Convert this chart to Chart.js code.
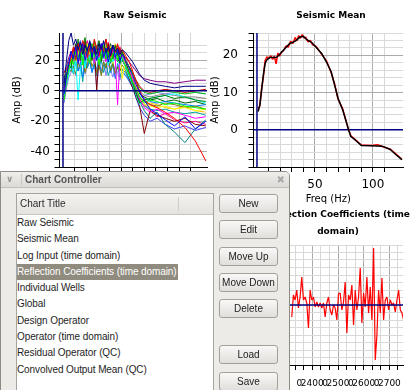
<!DOCTYPE html>
<html>
<head>
<meta charset="utf-8">
<script src="https://cdn.jsdelivr.net/npm/chart.js@4.4.0/dist/chart.umd.min.js"></script>
<style>
  html, body { margin: 0; padding: 0; background: #fff; }
  body { width: 415px; height: 390px; overflow: hidden; position: relative; font-family: 'DejaVu Sans', sans-serif; }
  canvas { position: absolute; }
  #rawChart { left: 7px; top: 0; }
  #meanChart { left: 205px; top: 0; }
  #reflChart { left: 263px; top: 200px; }

  .dlg { position: absolute; left: 0; top: 171px; width: 290px; height: 230px; box-sizing: border-box;
         background: #edebe8; border: 1px solid #8e8b85; border-top-right-radius: 5px;
         font-family: 'Liberation Sans', sans-serif; }
  .bar { position: absolute; left: 0; top: 0; right: 0; height: 15px; background: linear-gradient(#efeeec, #dcdad6);
         border-bottom: 1px solid #c2bfb9; border-top-right-radius: 4px; }
  .chev { position: absolute; left: 5px; top: 0; font: bold 9px 'DejaVu Sans', sans-serif; line-height: 15px; color: #9c9a96; }
  .sep { position: absolute; left: 20px; top: 2px; height: 11px; border-left: 1px solid #c9c6c0; }
  .ttl { position: absolute; left: 24px; top: 0; font-weight: bold; font-size: 10px; line-height: 15px; color: #555; }
  .cls { position: absolute; right: 4px; top: 0; font: 10px 'DejaVu Sans', sans-serif; line-height: 15px; color: #aaa; }
  .list { position: absolute; left: 15px; top: 21px; width: 196px; height: 220px; background: #fff; border: 1px solid #a7a49e; }
  .head { position: relative; height: 20px; padding-left: 3px; background: linear-gradient(#f4f3f1, #e5e3df);
          border-bottom: 1px solid #c8c5bf; font-size: 10px; line-height: 20px; color: #2a2a2a; }
  .head .div { position: absolute; left: 161px; top: 3px; height: 14px; border-left: 1px solid #d0cdc7; }
  .row { width: 161px; height: 16.3px; line-height: 16.3px; font-size: 10px; letter-spacing: -0.1px; color: #1e1e1e; white-space: nowrap; }
  .row.sel { background: #8f8b7e; color: #fff; }
  .btn { position: absolute; left: 218px; width: 59px; height: 19px; box-sizing: border-box; border: 1px solid #a3a09a;
         border-radius: 3px; background: linear-gradient(#f9f8f7, #e1dfdb); font-size: 10px; line-height: 17px;
         text-align: center; color: #222; white-space: nowrap; }
</style>
</head>
<body>
<canvas id="rawChart" width="256" height="210"></canvas>
<canvas id="meanChart" width="252" height="210"></canvas>
<canvas id="reflChart" width="152" height="190"></canvas>

<div class="dlg">
  <div class="bar"><span class="chev">&#8744;</span><span class="sep"></span><span class="ttl">Chart Controller</span><span class="cls">&#10006;</span></div>
  <div class="list">
    <div class="head">Chart Title<span class="div"></span></div>
    <div id="rows"></div>
  </div>
  <div class="btn" style="top:22px">New</div>
  <div class="btn" style="top:48px">Edit</div>
  <div class="btn" style="top:74.5px">Move Up</div>
  <div class="btn" style="top:101px">Move Down</div>
  <div class="btn" style="top:127px">Delete</div>
  <div class="btn" style="top:173px">Load</div>
  <div class="btn" style="top:200px">Save</div>
</div>

<script>
// ---- data ----
const chartTitles = ['Raw Seismic', 'Seismic Mean', 'Log Input (time domain)', 'Reflection Coefficients (time domain)',
  'Individual Wells', 'Global', 'Design Operator', 'Operator (time domain)', 'Residual Operator (QC)', 'Convolved Output Mean (QC)'];
const selectedChart = 3;

// Raw Seismic: amplitude spectra of the individual traces (dB)
const rawFreqs = [1, 3, 5, 7, 9, 11, 13, 15, 17, 19, 21, 23, 25, 27, 29, 31, 33, 35, 37, 39, 41, 43, 45, 47, 49, 51,
  54, 57, 60, 63, 66, 70, 75, 81, 88, 96, 105, 114, 123];
const rawTraces = [
  [5, 20, 33, 38, 30, 34, 27, 32, 24, 30, 26, 33, 27, 29, 24, 31, 27, 33, 25, 29, 23, 30, 26, 28, 24, 27, 25, 22, 19, 15, 11, 7, 5, 4, 3, 2, 3, 3, 3],
  [-2, 10, 18, 26, 21, 29, 18, 27, 31, 20, 27, 32, 22, 29, 20, 26, 31, 22, 28, 19, 26, 30, 22, 27, 20, 24, 20, 15, 10, 4, -1, -6, -12, -15, -19, -23, -17, -25, -20],
  [12, 14, 17, 22, 28, 20, 31, 25, 33, 26, 22, 30, 25, 34, 28, 23, 30, 26, 34, 27, 22, 29, 25, 31, 24, 27, 23, 19, 13, 6, 0, -6, -9, -11, -14, -18, -24, -33, -46],
  [-6, 6, 14, 21, 17, 26, 20, 30, 17, 28, 23, 18, 31, 22, 27, 17, 25, 30, 21, 26, 19, 24, 28, 20, 25, 21, 16, 11, 6, 1, -4, -8, -6, -7, -9, -8, -10, -11, -12],
  [4, 9, 17, 15, 27, 21, 34, 20, 29, 35, 23, 28, 20, 33, 26, 31, 19, 27, 34, 22, 28, 21, 30, 24, 18, 26, 19, 12, 5, -2, -8, -6, -5, -4, -3, -5, -4, -6, -7],
  [0, 6, 15, 24, 20, 28, 23, 19, 30, 26, 21, 29, 25, 18, 27, 22, 28, 24, 19, 27, 23, 26, 21, -9, 20, 24, 18, 13, 8, 1, -5, -11, -14, -12, -15, -14, -16, -18, -17],
  [-3, 4, 11, 18, 12, 20, -6, 14, 24, 15, 27, 21, 29, 18, 24, 20, 26, 21, 28, 17, 23, 19, 25, 20, 17, 22, 15, 9, 4, -3, -9, -6, -5, -4, -3, -2, -4, -6, -8],
  [10, 13, 12, 20, 26, 18, 24, 29, 25, 20, 31, 24, 27, 22, 25, 19, 28, 23, 30, 21, 26, 18, 27, 22, 25, 8, 21, 14, 9, 3, -4, -9, -10, -11, -10, -12, -11, -13, -12],
  [2, 8, 15, 21, 25, 30, 22, 27, 20, 32, 24, 28, 21, 29, 0, 25, 29, 23, 26, 31, 20, 24, 28, 19, 23, 21, 16, 8, 2, -4, -10, -28, -13, -16, -18, -20, -18, -22, -23],
  [6, 12, 19, 17, 24, 20, 27, 23, 28, 24, 26, 21, 25, 20, 23, 19, 22, 27, 21, 25, 18, 23, 20, 24, 18, 21, 15, 10, 5, -1, -7, -13, -18, -14, -22, -27, -34, -25, -19],
  [12, 16, 22, 26, 23, 29, 25, 32, 27, 23, 29, 25, 31, 27, 24, 28, 22, 30, 26, 23, 28, 25, 29, 22, 27, 24, 22, 19, 16, 13, 10, 8, 7, 6, 6, 5, 6, 7, 7],
  [4, 8, 13, 13, 16, 11, 19, 15, 21, 12, 18, 23, 16, 20, 12, 17, 10, 19, 15, 22, 13, 18, 11, 16, 13, 17, 13, 9, 4, 0, -4, -7, -9, -10, -8, -9, -11, -10, -12],
  [7, 11, 17, 23, 19, 27, 23, 20, 26, 22, 28, 24, 21, 27, 23, 26, 20, 25, 29, 22, 26, 20, 24, 27, 21, 23, 19, 14, 9, 4, 0, -3, -4, -3, -2, -3, -4, -4, -5],
  [0, 5, 14, 20, 26, 21, 28, 33, 25, 30, 26, 22, 30, 24, 29, 21, 26, 32, 24, 20, 27, 23, 29, 21, 26, 20, 16, 9, 2, -5, -11, -16, -20, -18, -22, -25, -23, -26, -24],
  [9, 13, 19, 16, 24, 28, 21, 26, 31, 24, 20, 27, 23, 28, 22, 25, 30, 21, 27, 24, 19, 26, 22, 28, 21, 25, 20, 16, 11, 6, 2, -1, -2, -1, 0, -1, -2, -1, -2],
  [1, 7, 12, 14, 17, 20, 13, 19, 9, 21, 16, 20, 12, 18, 14, 22, 11, 17, 15, 21, 12, 17, 8, 18, 14, 12, 10, 7, 3, 0, -3, -5, -7, -8, -7, -8, -9, -10, -9],
  [5, 11, 16, 22, 29, 24, 27, 22, 28, 33, 26, 23, 28, 21, 27, 24, 31, 25, 20, 28, 23, 26, 21, 25, 28, 22, 19, 16, 12, 7, 3, 0, -1, 0, 1, 0, -1, 0, 1],
  [2, 9, 14, 16, 11, 19, 13, 18, 6, 20, 15, 19, 13, 17, 10, 16, 20, 12, 18, 10, 15, 19, 11, 16, 9, 14, 12, 7, 2, -3, -7, -10, -12, -13, -12, -14, -15, -14, -16],
  [-4, 3, 13, 21, 26, 19, 30, 24, 20, 29, 33, 22, 27, 25, 30, 21, 24, 28, 22, 32, 25, 21, 27, 23, 29, 19, 22, 13, 7, 2, -6, -9, -13, -17, -15, -19, -21, -20, -22],
  [8, 12, 16, 24, 19, 27, 30, 21, 26, 23, 30, 26, 20, 31, 24, 27, 21, 28, 25, 20, 29, 24, 31, 25, 22, 27, 20, 14, 6, -2, -7, -10, -8, -9, -11, -12, -10, -13, -14],
  [3, 10, 18, 24, 20, 31, 25, 28, 22, 30, 25, 32, 26, 21, 28, 33, 24, 29, 23, 27, 31, 22, 26, 30, 23, 25, 21, 15, 8, 3, -2, -4, -6, -5, -7, -6, -8, -7, -9],
  [-8, 2, 9, 12, 16, 10, 18, 13, 20, 11, 17, 21, 12, 18, 3, 16, 13, 20, 10, 17, 14, 9, 16, 12, 7, 14, 10, 6, 2, -2, -6, -3, -2, -1, -2, -1, 0, -1, -2]
];
const rawColors = ['#000080', '#0000ff', '#ff0000', '#00ff00', '#008000', '#ff00ff', '#00ffff', '#ffff00', '#800000',
  '#008080', '#800080', '#808000', '#808080', '#4040ff', '#00c000', '#0080ff', '#c00000', '#00a0a0',
  '#ff0080', '#ffc000', '#006000', '#8080ff'];
const rawFreqRange = [-3, 124];
const rawAmpRange = [-50, 38];
const rawAmpTicks = [-40, -20, 0, 20];

// Seismic Mean: smoothed (black) and raw (red) mean spectrum
const meanFreqs = [1, 2.5, 4, 5.5, 7, 8.5, 11, 14, 17, 20, 24, 28, 33, 37, 40, 43, 47, 51, 56, 60, 64, 67, 70, 74, 77, 79, 81, 85, 90, 99, 108, 115, 120, 125];
const meanSmooth = [4.9, 6.7, 10.7, 14.7, 17.8, 18.8, 19.4, 19.4, 19.5, 20.4, 21.8, 23.1, 23.8, 24.9, 25.1, 24.2, 23.5, 22.2, 20.4, 18.2, 15.6, 12, 8.4, 5.3, 2.2, 0, -1.8, -2.8, -4.2, -4.3, -4.4, -5.3, -6.7, -8];
const meanRawFreqs = [1, 2.5, 4, 5.5, 7, 8.5, 10, 12, 13.5, 15, 16.5, 18, 19.5, 21, 23, 25, 27, 29, 31, 33, 34.5, 36, 37.5, 39, 40.5, 42, 44, 46, 48, 51, 56, 60, 64, 67, 70, 74, 77, 79, 81, 85, 90, 99, 104, 108, 115, 120, 125];
const meanRaw = [5.5, 6.5, 11, 14.2, 18.5, 19.6, 19.2, 19.9, 18.9, 19.8, 17.7, 20.6, 19.8, 20.8, 21.3, 22.5, 22.2, 23.8, 23.2, 24.8, 23.9, 25.3, 24.6, 25.6, 24.7, 24.9, 23.6, 24, 22.8, 22.4, 20.2, 18.5, 15.4, 12.3, 8.2, 5.6, 2.2, 0.1, -1.6, -2.7, -4.1, -4.2, -4, -4.5, -5.2, -6.5, -7.9];
const meanFreqRange = [-3, 126];
const meanAmpRange = [-10, 26];
const meanAmpTicks = [0, 10, 20];
const freqTicks = [0, 50, 100];

// Reflection coefficients (time domain)
const reflTimes = [2320, 2326.5, 2333, 2339.5, 2346, 2352.5, 2359, 2365.5, 2372, 2378.5, 2385, 2391.5, 2398, 2404.5, 2411, 2417.5,
  2424, 2430.5, 2437, 2443.5, 2450, 2456.5, 2463, 2469.5, 2476, 2482.5, 2489, 2495.5, 2502, 2508.5, 2515, 2521.5, 2528, 2534.5,
  2541, 2547.5, 2554, 2560.5, 2567, 2573.5, 2580, 2586.5, 2593, 2599.5, 2606, 2612.5, 2619, 2625.5, 2632, 2638.5, 2645, 2651.5,
  2658, 2664.5, 2671, 2677.5, 2684, 2690.5, 2697, 2703.5, 2710, 2716.5, 2723, 2729.5, 2736, 2742.5, 2749, 2755.5];
const reflCoefs = [-0.12, 0.10, 0.05, 0.15, -0.03, 0.08, 0.28, 0.05, 0.08, 0.02, -0.23, 0.15, 0.05, 0.08, -0.02, 0.03,
  -0.02, 0.02, -0.03, 0.02, -0.12, 0.02, 0.08, -0.05, -0.10, 0, -0.03, -0.15, 0.11, 0.12, -0.05, 0.03, 0.23, -0.28,
  0.10, 0.05, 0.20, -0.20, 0.15, -0.05, 0.08, 0.37, -0.18, 0.12, -0.02, 0.28, -0.08, 0.18, -0.15, 0.57, -0.55, -0.30,
  0.15, -0.08, 0.27, -0.15, 0.05, 0.08, -0.05, 0.05, 0, 0.02, -0.07, 0.05, 0.15, -0.05, -0.08, -0.15];
const reflTimeRange = [2247, 2753];
const reflAmpRange = [-0.6, 0.6];
const reflTickValues = [2350, 2400, 2450, 2500, 2550, 2600, 2650, 2700, 2750];
const reflTickLabels = ['0', '2400', '0', '2500', '0', '2600', '0', '2700', '0'];

// ---- helpers ----
const GRID = '#d9d9d9';
const GRID_DARK = '#ababab';
const NAVY = '#000080';
const near = (v, m) => Math.abs(v / m - Math.round(v / m)) < 1e-6;
const labelFrom = (values, labels) => v => {
  const i = values.findIndex(t => Math.abs(t - v) < 1e-6);
  return i < 0 ? '' : (labels ? labels[i] : String(values[i]));
};
const fixWidth = w => s => { s.width = w; s.paddingTop = 0; s.paddingBottom = 0; };
const fixHeight = h => s => { s.height = h; s.paddingLeft = 0; s.paddingRight = 0; };
const pts = (xs, ys) => ys.map((y, i) => ({ x: xs[i], y: y }));
const zeroLines = (xr, yr) => [
  { data: [{ x: xr[0], y: 0 }, { x: xr[1], y: 0 }], borderColor: NAVY, borderWidth: 1.5 },
  { data: [{ x: 0, y: yr[0] }, { x: 0, y: yr[1] }], borderColor: NAVY, borderWidth: 1.5 }
];
// invisible right-hand axis, only there so the title centres over the plot
const spacer = w => ({ position: 'right', min: 0, max: 1, afterFit: fixWidth(w),
  grid: { display: false }, border: { display: false }, ticks: { display: false } });

Chart.defaults.font.family = "'DejaVu Sans', sans-serif";
Chart.defaults.color = '#000';
Chart.defaults.animation = false;
Chart.defaults.responsive = false;
Chart.defaults.plugins.legend.display = false;
Chart.defaults.plugins.tooltip.enabled = false;
Chart.defaults.elements.point.radius = 0;
Chart.defaults.elements.line.borderWidth = 1;
Chart.defaults.elements.line.borderJoinStyle = 'bevel';

function freqAxis(range, height) {
  return {
    type: 'linear', min: range[0], max: range[1], afterFit: fixHeight(height),
    border: { color: '#000' },
    grid: {
      color: c => c.tick && near(c.tick.value, 50) ? GRID_DARK : (c.tick && near(c.tick.value, 10) ? GRID : 'transparent'),
      tickColor: c => c.tick && near(c.tick.value, 10) ? '#000' : 'transparent',
      tickLength: 5
    },
    ticks: { stepSize: 10, autoSkip: false, maxRotation: 0, padding: 6, font: { size: 12 }, callback: labelFrom(freqTicks) },
    title: { display: true, text: 'Freq (Hz)', font: { size: 10 }, padding: { top: 0, bottom: 5 } }
  };
}

function ampAxis(range, step, major, tickVals, width, pad) {
  return {
    min: range[0], max: range[1], afterFit: fixWidth(width),
    border: { color: '#000' },
    grid: {
      color: c => c.tick && near(c.tick.value, major) ? GRID_DARK : (c.tick && near(c.tick.value, step) ? GRID : 'transparent'),
      tickColor: c => c.tick && near(c.tick.value, step) ? '#000' : 'transparent',
      tickLength: 5
    },
    ticks: { stepSize: step, autoSkip: false, padding: pad, font: { size: 12 }, callback: labelFrom(tickVals) },
    title: { display: true, text: 'Amp (dB)', font: { size: 10 }, padding: { top: 4, bottom: 0 } }
  };
}

function titleOpts(text, top, bottom, lineHeight) {
  return { display: true, text: text, color: '#000', padding: { top: top, bottom: bottom },
    font: { size: 9, weight: 'bold', lineHeight: lineHeight || 1.2 } };
}

// ---- Raw Seismic ----
new Chart(document.getElementById('rawChart'), {
  type: 'line',
  data: {
    datasets: zeroLines(rawFreqRange, rawAmpRange).concat(
      rawTraces.map((t, i) => ({ data: pts(rawFreqs, t), borderColor: rawColors[i], borderWidth: 1 })))
  },
  options: {
    layout: { padding: 0 },
    plugins: { title: titleOpts('Raw Seismic', 10.6, 11.6) },
    scales: {
      x: freqAxis(rawFreqRange, 43),
      y: ampAxis(rawAmpRange, 5, 20, rawAmpTicks, 52.5, 4.5),
      yr: spacer(56)
    }
  }
});

// ---- Seismic Mean ----
new Chart(document.getElementById('meanChart'), {
  type: 'line',
  data: {
    datasets: [
      { data: pts(meanFreqs, meanSmooth), borderColor: '#000', borderWidth: 1.5 },
      { data: pts(meanRawFreqs, meanRaw), borderColor: '#ff0000', borderWidth: 1.5 }
    ].concat(zeroLines(meanFreqRange, meanAmpRange))
  },
  options: {
    layout: { padding: 0 },
    plugins: { title: titleOpts('Seismic Mean', 10.6, 11.6) },
    scales: {
      x: freqAxis(meanFreqRange, 43),
      y: ampAxis(meanAmpRange, 2, 10, meanAmpTicks, 48.5, 10.5),
      yr: spacer(54)
    }
  }
});

// ---- Reflection Coefficients ----
new Chart(document.getElementById('reflChart'), {
  type: 'line',
  data: {
    datasets: [
      { data: [{ x: reflTimeRange[0], y: 0 }, { x: reflTimeRange[1], y: 0 }], borderColor: NAVY, borderWidth: 1.5 },
      { data: pts(reflTimes, reflCoefs), borderColor: '#ff0000', borderWidth: 1.2 }
    ]
  },
  options: {
    layout: { padding: { right: 2 } },
    plugins: { title: titleOpts(['Reflection Coefficients (time', 'domain)'], 6.5, 4.5, 17 / 9) },
    scales: {
      x: {
        type: 'linear', min: reflTimeRange[0], max: reflTimeRange[1], afterFit: fixHeight(25),
        border: { color: '#000' },
        grid: {
          color: c => c.tick && near(c.tick.value, 100) ? GRID_DARK : (c.tick && near(c.tick.value, 100 / 3) ? GRID : 'transparent'),
          tickColor: c => c.tick && near(c.tick.value, 100 / 3) ? '#000' : 'transparent',
          tickLength: 5
        },
        ticks: { stepSize: 100 / 6, autoSkip: false, maxRotation: 0, padding: 8, font: { size: 9 },
          callback: labelFrom(reflTickValues, reflTickLabels) }
      },
      y: {
        min: reflAmpRange[0], max: reflAmpRange[1], afterFit: fixWidth(10),
        border: { display: false },
        grid: { drawTicks: false, color: c => c.tick && near(c.tick.value, 0.075) ? GRID : 'transparent' },
        ticks: { display: false, stepSize: 0.075 }
      },
      yr: spacer(10)
    }
  }
});

// ---- Chart Controller list ----
const rowsEl = document.getElementById('rows');
chartTitles.forEach((t, i) => {
  const d = document.createElement('div');
  d.className = 'row' + (i === selectedChart ? ' sel' : '');
  d.textContent = t;
  rowsEl.appendChild(d);
});
</script>
</body>
</html>
